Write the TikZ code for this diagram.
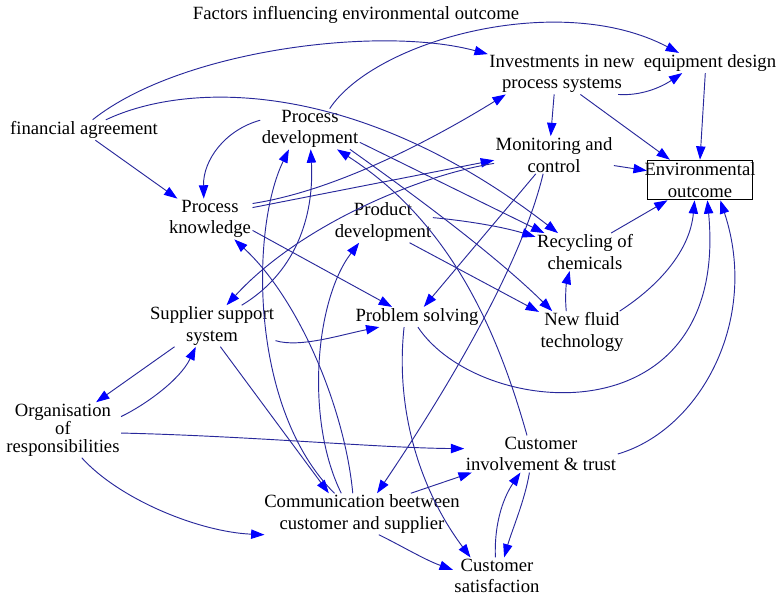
\documentclass[tikz,border=0pt]{standalone}
\usepackage{fontspec}
\setmainfont{Liberation Serif}
\usetikzlibrary{arrows.meta}
\definecolor{lineblue}{RGB}{40,40,155}
\begin{document}
\begin{tikzpicture}[x=0.75pt,y=-0.75pt,
	lbl/.style={align=center,inner sep=1pt,font=\fontsize{14}{16}\selectfont},
	infl/.style={draw=lineblue,line width=0.7pt,-{Triangle[length=10pt,width=7pt,color=blue]}}]
	\useasboundingbox (0,0) rectangle (778,595);

	\node[lbl] (title) at (356,15) {Factors influencing environmental outcome};
	\node[lbl] (fin) at (84,130) {financial agreement};
	\node[lbl] (pdev) at (310,129) {Process\\development};
	\node[lbl] (inv) at (562,74) {Investments in new\\process systems};
	\node[lbl] (equip) at (710,63) {equipment design};
	\node[lbl] (mon) at (554,155) {Monitoring and\\control};
	\node[lbl,draw,line width=0.6pt,inner xsep=-2pt,inner ysep=2pt] (env) at (700,180) {Environmental\\outcome};
	\node[lbl] (pknow) at (210,219) {Process\\knowledge};
	\node[lbl] (prod) at (383,222) {Product\\development};
	\node[lbl] (recyc) at (585,252) {Recycling of\\chemicals};
	\node[lbl] (supp) at (212,326) {Supplier support\\system};
	\node[lbl] (prob) at (417,317) {Problem solving};
	\node[lbl] (fluid) at (582,332) {New fluid\\technology};
	\node[lbl,font=\fontsize{14}{13.5}\selectfont] (org) at (63,430) {Organisation\\of\\responsibilities};
	\node[lbl] (cust) at (541,454) {Customer\\involvement \& trust};
	\node[lbl] (comm) at (362,514) {Communication beetween\\customer and supplier};
	\node[lbl] (sat) at (497,576) {Customer\\satisfaction};

	\draw[infl] (fin.50) .. controls (180,50) and (380,25) .. (inv.165);
	\draw[infl] (fin.25) .. controls (190,80) and (360,80) .. (recyc.145);
	\draw[infl] (fin.-42) -- (pknow.148);
	\draw[infl] (pdev.46) .. controls (375,40) and (560,-10) .. (equip.162);
	\draw[infl] (inv.-20) .. controls (640,96) and (660,88) .. (equip.-160);
	\draw[infl] (inv.-111) -- (mon.100);
	\draw[infl] (inv.-48) -- (env.146);
	\draw[infl] (equip.-115) -- (env.north);
	\draw[infl] (mon.-10) -- (env.170);
	\draw[infl] (pdev.170) .. controls (225,130) and (203,160) .. (pknow.107);
	\draw[infl] (pknow.20) .. controls (340,190) and (440,135) .. (inv.-160);
	\draw[infl] (pknow.15) -- (mon.-175);
	\draw[infl] (mon.-172) .. controls (420,175) and (300,225) .. (supp.55);
	\draw[infl] (supp.35) .. controls (300,270) and (314,210) .. (pdev.-88);
	\draw[infl] (comm.143) .. controls (250,410) and (250,230) .. (pdev.-136);
	\draw[infl] (comm.114) .. controls (345,410) and (300,300) .. (pknow.-40);
	\draw[infl] (comm.135) .. controls (305,420) and (315,300) .. (prod.-139);
	\draw[infl] (supp.-68) -- (comm.148);
	\draw[infl] (supp.-13) .. controls (300,348) and (340,335) .. (prob.-165);
	\draw[infl] (pknow.-15) -- (prob.158);
	\draw[infl] (mon.-134) -- (prob.56);
	\draw[infl] (mon.-120) .. controls (520,270) and (440,400) .. (comm.54);
	\draw[infl] (prod.5) .. controls (460,220) and (500,226) .. (recyc.163);
	\draw[infl] (prod.-38) -- (fluid.155);
	\draw[infl] (pdev.-15) -- (recyc.155);
	\draw[infl] (pdev.-27) .. controls (400,185) and (490,250) .. (fluid.145);
	\draw[infl] (cust.127) .. controls (500,340) and (455,225) .. (pdev.-37);
	\draw[infl] (fluid.127) .. controls (565,300) and (566,285) .. (recyc.-129);
	\draw[infl] (recyc.36) -- (env.-148);
	\draw[infl] (fluid.29) .. controls (660,285) and (690,250) .. (env.-105);
	\draw[infl] (prob.-85) .. controls (480,420) and (730,440) .. (env.-70);
	\draw[infl] (cust.east) .. controls (700,430) and (760,320) .. (env.-45);
	\draw[infl] (supp.-151) -- (org.40);
	\draw[infl] (org.13) .. controls (145,405) and (180,380) .. (supp.-128);
	\draw[infl] (org.-3) .. controls (250,436) and (380,448) .. (cust.176);
	\draw[infl] (org.-56) .. controls (120,500) and (200,532) .. (comm.-168);
	\draw[infl] (comm.23) -- (cust.-165);
	\draw[infl] (comm.-51) .. controls (400,545) and (425,560) .. (sat.172);
	\draw[infl] (prob.-142) .. controls (395,410) and (420,490) .. (sat.145);
	\draw[infl] (sat.95) .. controls (494,520) and (505,495) .. (cust.-138);
	\draw[infl] (cust.-122) .. controls (525,500) and (512,530) .. (sat.69);
\end{tikzpicture}
\end{document}
